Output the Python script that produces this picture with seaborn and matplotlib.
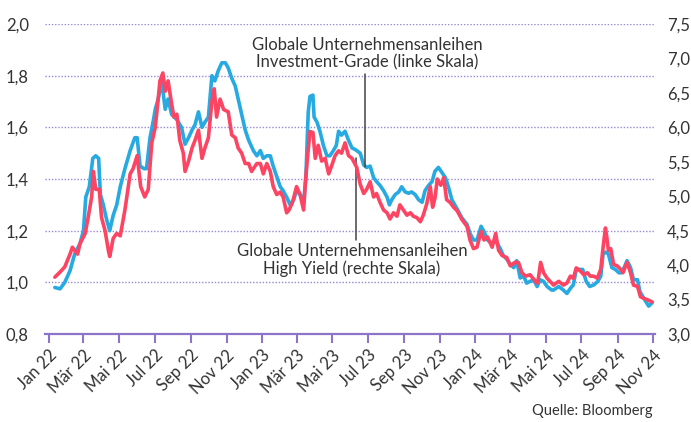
import pandas as pd
import matplotlib
matplotlib.use("Agg")
import matplotlib.pyplot as plt
import matplotlib.ticker as mticker
import seaborn as sns

# Globale Unternehmensanleihen Investment-Grade (linke Skala, %)
ig_dates = [
    "2022-01-11", "2022-01-20", "2022-01-28", "2022-02-06", "2022-02-14", "2022-02-23", "2022-03-01", "2022-03-05",
    "2022-03-11", "2022-03-17", "2022-03-22", "2022-03-27", "2022-03-30", "2022-04-04", "2022-04-10", "2022-04-15",
    "2022-04-21", "2022-04-27", "2022-05-03", "2022-05-11", "2022-05-20", "2022-05-28", "2022-06-01", "2022-06-06",
    "2022-06-13", "2022-06-17", "2022-06-23", "2022-06-29", "2022-07-02", "2022-07-07", "2022-07-13", "2022-07-19",
    "2022-07-24", "2022-07-30", "2022-08-08", "2022-08-16", "2022-08-22", "2022-08-28", "2022-09-03", "2022-09-08",
    "2022-09-14", "2022-09-20", "2022-09-25", "2022-10-01", "2022-10-07", "2022-10-12", "2022-10-18", "2022-10-24",
    "2022-10-30", "2022-11-04", "2022-11-10", "2022-11-16", "2022-11-21", "2022-11-27", "2022-12-03", "2022-12-09",
    "2022-12-17", "2022-12-23", "2022-12-29", "2023-01-03", "2023-01-09", "2023-01-15", "2023-01-20", "2023-01-26",
    "2023-02-01", "2023-02-06", "2023-02-12", "2023-02-18", "2023-02-24", "2023-03-01", "2023-03-07", "2023-03-13",
    "2023-03-17", "2023-03-21", "2023-03-24", "2023-03-29", "2023-03-31", "2023-04-05", "2023-04-10", "2023-04-16",
    "2023-04-22", "2023-04-27", "2023-05-03", "2023-05-08", "2023-05-12", "2023-05-17", "2023-05-23", "2023-05-29",
    "2023-06-04", "2023-06-09", "2023-06-18", "2023-06-24", "2023-06-29", "2023-07-05", "2023-07-11", "2023-07-16",
    "2023-07-22", "2023-07-28", "2023-08-03", "2023-08-07", "2023-08-11", "2023-08-17", "2023-08-23", "2023-08-28",
    "2023-09-03", "2023-09-09", "2023-09-14", "2023-09-20", "2023-09-26", "2023-10-02", "2023-10-07", "2023-10-13",
    "2023-10-19", "2023-10-24", "2023-10-30", "2023-11-05", "2023-11-11", "2023-11-16", "2023-11-22", "2023-12-01",
    "2023-12-09", "2023-12-18", "2023-12-23", "2023-12-29", "2024-01-04", "2024-01-11", "2024-01-16", "2024-01-22",
    "2024-01-30", "2024-02-04", "2024-02-13", "2024-02-18", "2024-02-24", "2024-03-01", "2024-03-07", "2024-03-12",
    "2024-03-18", "2024-03-24", "2024-03-29", "2024-04-04", "2024-04-10", "2024-04-16", "2024-04-21", "2024-04-27",
    "2024-05-03", "2024-05-11", "2024-05-14", "2024-05-23", "2024-05-31", "2024-06-06", "2024-06-12", "2024-06-17",
    "2024-06-22", "2024-06-28", "2024-07-03", "2024-07-09", "2024-07-15", "2024-07-22", "2024-07-29", "2024-08-03",
    "2024-08-07", "2024-08-11", "2024-08-16", "2024-08-22", "2024-08-28", "2024-09-03", "2024-09-07", "2024-09-12",
    "2024-09-17", "2024-09-23", "2024-09-28", "2024-10-05", "2024-10-09", "2024-10-16", "2024-10-24", "2024-10-30",
]
ig_values = [
    0.98, 0.975, 1.00, 1.045, 1.11, 1.15, 1.20, 1.33,
    1.37, 1.48, 1.49, 1.48, 1.34, 1.30, 1.24, 1.20,
    1.26, 1.30, 1.37, 1.44, 1.51, 1.56, 1.56, 1.45,
    1.44, 1.44, 1.56, 1.63, 1.67, 1.71, 1.78, 1.67,
    1.71, 1.65, 1.63, 1.60, 1.535, 1.56, 1.59, 1.61,
    1.66, 1.60, 1.62, 1.64, 1.80, 1.78, 1.82, 1.85,
    1.85, 1.83, 1.79, 1.76, 1.71, 1.65, 1.59, 1.55,
    1.51, 1.49, 1.51, 1.48, 1.49, 1.49, 1.45, 1.41,
    1.37, 1.355, 1.33, 1.30, 1.32, 1.355, 1.34, 1.31,
    1.41, 1.66, 1.72, 1.725, 1.64, 1.62, 1.585, 1.53,
    1.49, 1.49, 1.51, 1.53, 1.585, 1.57, 1.585, 1.55,
    1.52, 1.515, 1.50, 1.455, 1.445, 1.45, 1.405, 1.39,
    1.375, 1.355, 1.33, 1.30, 1.32, 1.34, 1.35, 1.37,
    1.35, 1.345, 1.35, 1.34, 1.32, 1.31, 1.355, 1.375,
    1.39, 1.43, 1.445, 1.425, 1.405, 1.37, 1.32, 1.284,
    1.25, 1.224, 1.19, 1.164, 1.164, 1.217, 1.197, 1.164,
    1.15, 1.164, 1.13, 1.104, 1.09, 1.07, 1.057, 1.084,
    1.017, 1.024, 0.997, 1.004, 1.01, 0.984, 1.01, 1.004,
    0.984, 0.97, 0.97, 0.984, 0.97, 0.957, 0.977, 0.99,
    1.05, 1.05, 1.05, 1.004, 0.984, 0.99, 1.004, 1.024,
    1.11, 1.117, 1.11, 1.057, 1.05, 1.037, 1.037, 1.057,
    1.084, 1.057, 1.01, 1.01, 0.964, 0.937, 0.908, 0.921,
]

# Globale Unternehmensanleihen High Yield (rechte Skala, %)
hy_dates = [
    "2022-01-11", "2022-01-20", "2022-01-28", "2022-02-06", "2022-02-10", "2022-02-19", "2022-02-23", "2022-03-04",
    "2022-03-09", "2022-03-15", "2022-03-18", "2022-03-22", "2022-03-28", "2022-04-01", "2022-04-07", "2022-04-13",
    "2022-04-15", "2022-04-21", "2022-04-27", "2022-05-03", "2022-05-11", "2022-05-20", "2022-05-25", "2022-06-01",
    "2022-06-07", "2022-06-14", "2022-06-20", "2022-06-26", "2022-07-02", "2022-07-07", "2022-07-10", "2022-07-15",
    "2022-07-19", "2022-07-24", "2022-07-30", "2022-08-03", "2022-08-08", "2022-08-13", "2022-08-19", "2022-08-22",
    "2022-08-28", "2022-09-03", "2022-09-08", "2022-09-14", "2022-09-20", "2022-09-25", "2022-10-01", "2022-10-07",
    "2022-10-11", "2022-10-15", "2022-10-21", "2022-10-27", "2022-11-04", "2022-11-10", "2022-11-16", "2022-11-21",
    "2022-11-27", "2022-12-03", "2022-12-09", "2022-12-14", "2022-12-17", "2022-12-23", "2022-12-29", "2023-01-03",
    "2023-01-09", "2023-01-15", "2023-01-20", "2023-01-26", "2023-02-01", "2023-02-06", "2023-02-12", "2023-02-16",
    "2023-02-22", "2023-03-01", "2023-03-07", "2023-03-13", "2023-03-17", "2023-03-20", "2023-03-24", "2023-03-29",
    "2023-04-02", "2023-04-07", "2023-04-13", "2023-04-19", "2023-04-25", "2023-04-30", "2023-05-06", "2023-05-12",
    "2023-05-17", "2023-05-23", "2023-05-29", "2023-06-04", "2023-06-12", "2023-06-18", "2023-06-24", "2023-06-29",
    "2023-07-05", "2023-07-11", "2023-07-16", "2023-07-22", "2023-07-28", "2023-08-03", "2023-08-08", "2023-08-14",
    "2023-08-20", "2023-08-25", "2023-08-31", "2023-09-06", "2023-09-12", "2023-09-17", "2023-09-23", "2023-09-29",
    "2023-10-04", "2023-10-10", "2023-10-16", "2023-10-20", "2023-10-24", "2023-10-28", "2023-11-03", "2023-11-08",
    "2023-11-13", "2023-11-19", "2023-11-25", "2023-12-01", "2023-12-09", "2023-12-18", "2023-12-23", "2023-12-29",
    "2024-01-04", "2024-01-11", "2024-01-16", "2024-01-22", "2024-01-30", "2024-02-05", "2024-02-10", "2024-02-16",
    "2024-02-24", "2024-03-01", "2024-03-09", "2024-03-15", "2024-03-21", "2024-03-27", "2024-04-04", "2024-04-13",
    "2024-04-17", "2024-04-22", "2024-04-27", "2024-05-03", "2024-05-11", "2024-05-14", "2024-05-23", "2024-05-31",
    "2024-06-06", "2024-06-12", "2024-06-17", "2024-06-22", "2024-06-29", "2024-07-05", "2024-07-11", "2024-07-16",
    "2024-07-22", "2024-07-28", "2024-08-03", "2024-08-07", "2024-08-11", "2024-08-14", "2024-08-16", "2024-08-20",
    "2024-08-25", "2024-08-31", "2024-09-06", "2024-09-10", "2024-09-17", "2024-09-23", "2024-09-28", "2024-10-05",
    "2024-10-10", "2024-10-18", "2024-10-24", "2024-10-30",
]
hy_values = [
    3.825, 3.90, 3.975, 4.16, 4.26, 4.16, 4.31, 4.46,
    4.69, 4.99, 5.36, 5.10, 5.10, 4.69, 4.50, 4.20,
    4.125, 4.39, 4.46, 4.425, 4.80, 5.325, 5.40, 5.59,
    5.14, 4.99, 5.10, 5.775, 6.00, 6.41, 6.675, 6.79,
    6.525, 6.675, 6.34, 6.15, 6.19, 5.81, 5.625, 5.36,
    5.51, 5.70, 5.81, 5.96, 5.55, 5.70, 5.85, 6.375,
    6.56, 6.15, 6.41, 6.26, 6.225, 5.89, 5.85, 5.70,
    5.625, 5.475, 5.475, 5.36, 5.40, 5.475, 5.475, 5.325,
    5.475, 5.36, 5.14, 5.025, 5.06, 4.99, 4.76, 4.80,
    4.91, 5.14, 5.025, 4.80, 5.29, 5.59, 5.94, 5.925,
    5.55, 5.74, 5.51, 5.55, 5.325, 5.44, 5.59, 5.66,
    5.625, 5.775, 5.59, 5.55, 5.42, 5.175, 5.04, 5.10,
    5.21, 4.99, 5.04, 4.91, 4.80, 4.76, 4.67, 4.76,
    4.71, 4.875, 4.80, 4.725, 4.76, 4.71, 4.69, 4.63,
    4.725, 4.89, 5.14, 4.84, 4.97, 5.25, 5.16, 5.27,
    4.95, 4.91, 4.84, 4.79, 4.665, 4.56, 4.365, 4.24,
    4.26, 4.49, 4.365, 4.41, 4.26, 4.46, 4.215, 4.14,
    4.11, 3.99, 4.04, 4.04, 3.89, 3.84, 3.86, 3.765,
    3.74, 4.04, 3.89, 3.81, 3.74, 3.71, 3.765, 3.71,
    3.74, 3.84, 3.81, 3.96, 3.915, 3.86, 3.89, 3.84,
    3.84, 3.81, 3.94, 4.26, 4.54, 4.365, 4.215, 4.24,
    4.01, 3.99, 3.94, 3.89, 4.04, 3.89, 3.71, 3.69,
    3.54, 3.51, 3.49, 3.465,
]

tick_dates = pd.date_range("2022-01-01", "2024-11-01", freq="2MS")
tick_labels = ["Jan 22", "Mär 22", "Mai 22", "Jul 22", "Sep 22", "Nov 22",
               "Jan 23", "Mär 23", "Mai 23", "Jul 23", "Sep 23", "Nov 23",
               "Jan 24", "Mär 24", "Mai 24", "Jul 24", "Sep 24", "Nov 24"]

ig = pd.DataFrame({"date": pd.to_datetime(ig_dates), "value": ig_values})
hy = pd.DataFrame({"date": pd.to_datetime(hy_dates), "value": hy_values})

BLUE = "#27a9e1"
RED = "#fd4462"
PURPLE = "#8d74c9"
GRID = "#9a88d6"
TEXT = "#333333"

sns.set_style("white")
plt.rcParams["font.family"] = ["Lato", "DejaVu Sans"]

fig = plt.figure(figsize=(6.91, 4.22), dpi=100)
ax = fig.add_axes([0.065, 0.2085, 0.883, 0.7345])
ax2 = ax.twinx()

sns.lineplot(data=ig, x="date", y="value", ax=ax, color=BLUE, linewidth=2.6)
sns.lineplot(data=hy, x="date", y="value", ax=ax2, color=RED, linewidth=2.6)

ax.set_xlim(pd.Timestamp("2021-12-25"), pd.Timestamp("2024-11-04"))
ax.set_ylim(0.8, 2.0)
ax2.set_ylim(3.0, 7.5)

comma = mticker.FuncFormatter(lambda v, _: f"{v:.1f}".replace(".", ","))
ax.yaxis.set_major_locator(mticker.MultipleLocator(0.2))
ax.yaxis.set_major_formatter(comma)
ax2.yaxis.set_major_locator(mticker.MultipleLocator(0.5))
ax2.yaxis.set_major_formatter(comma)

ax.set_xticks(tick_dates)
ax.set_xticklabels(tick_labels, rotation=45, ha="right", va="top", rotation_mode="anchor")

ax.set_xlabel("")
ax.set_ylabel("")
ax2.set_ylabel("")

ax.grid(axis="y", color=GRID, linestyle=(0, (1, 1.3)), linewidth=1.0)
ax.grid(axis="x", visible=False)

for a in (ax, ax2):
    for s in ["top", "left", "right", "bottom"]:
        a.spines[s].set_visible(False)
ax.spines["bottom"].set_visible(True)
ax.spines["bottom"].set_color(PURPLE)
ax.spines["bottom"].set_linewidth(1.6)

ax.tick_params(axis="x", bottom=True, length=6.5, width=1.5, color=PURPLE,
               labelsize=12, labelcolor=TEXT, pad=3)
ax.tick_params(axis="y", left=False, labelsize=12, labelcolor=TEXT, pad=8)
ax2.tick_params(axis="y", right=False, labelsize=12, labelcolor=TEXT, pad=5)

# Beschriftungen mit Hinweislinien
ax.plot([pd.Timestamp("2023-06-27")] * 2, [1.447, 1.807], color="#444444", linewidth=1.1)
ax.text(pd.Timestamp("2023-06-30"), 1.822,
        "Globale Unternehmensanleihen\nInvestment-Grade (linke Skala)",
        ha="center", va="bottom", fontsize=12, color=TEXT, linespacing=1.1)

ax2.plot([pd.Timestamp("2023-06-10")] * 2, [5.55, 4.37], color="#444444", linewidth=1.1, zorder=1)
ax2.text(pd.Timestamp("2023-06-04"), 4.32,
         "Globale Unternehmensanleihen\nHigh Yield (rechte Skala)",
         ha="center", va="top", fontsize=12, color=TEXT, linespacing=1.1)

fig.text(0.945, 0.025, "Quelle: Bloomberg", ha="right", va="center", fontsize=10.5, color=TEXT)

fig.savefig("out.png", dpi=100)
